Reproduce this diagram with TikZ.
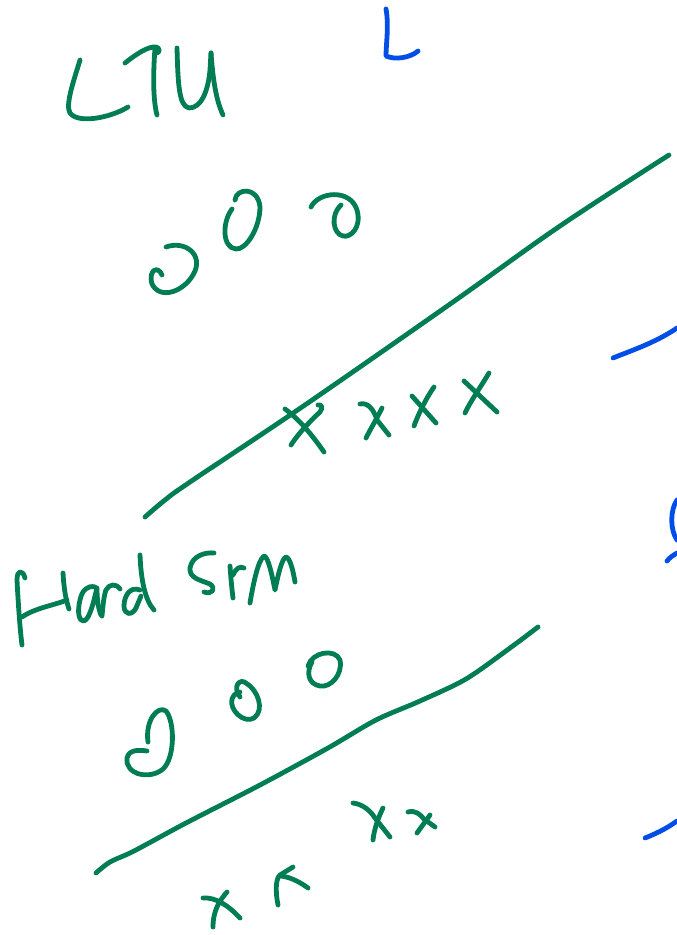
\documentclass[tikz,border=0pt]{standalone}
\definecolor{penGreen}{RGB}{0,125,82}
\definecolor{penBlue}{RGB}{0,78,230}
\begin{document}
\begin{tikzpicture}[x=1pt, y=-1pt, line cap=round, line join=round,
  ink/.style={draw=penGreen, line width=4.8pt},
  blueink/.style={draw=penBlue, line width=4.8pt}]
  \useasboundingbox (0,0) rectangle (677,935);
  \draw[ink] (80,60) .. controls (74,80) and (65,105) .. (70,113) .. controls (78,124) and (110,118) .. (128,107);
  \draw[ink] (125,63) .. controls (135,55) and (148,46) .. (156,47) .. controls (160,48) and (160,52) .. (157,53);
  \draw[ink] (155,48) .. controls (153,75) and (153,100) .. (157,115);
  \draw[ink] (177,48) .. controls (178,85) and (179,106) .. (189,108) .. controls (201,108) and (208,92) .. (210,70) -- (211,53);
  \draw[ink] (211,53) .. controls (213,80) and (216,100) .. (223,115);
  \draw[blueink] (386,9) .. controls (389,25) and (386,45) .. (386,56) .. controls (395,60) and (410,58) .. (418,51);
  \draw[ink] (166,247) .. controls (185,240) and (205,255) .. (193,275) .. controls (183,292) and (160,300) .. (152,284) .. controls (148,270) and (158,265) .. (162,275);
  \draw[ink] (235,200) .. controls (236,188) and (258,186) .. (260,207) .. controls (260,228) and (246,250) .. (236,249) .. controls (222,248) and (222,222) .. (232,209);
  \draw[ink] (311,207) .. controls (318,192) and (350,188) .. (357,210) .. controls (362,228) and (350,238) .. (343,236) .. controls (333,234) and (330,215) .. (341,205);
  \draw[ink] plot[smooth, tension=0.6] coordinates {(669,155) (560,226) (453,302) (302,407) (190,482) (165,500) (145,517)};
  \draw[ink] (285,409) .. controls (300,420) and (312,435) .. (324,452);
  \draw[ink] (318,405) .. controls (322,404) and (323,408) .. (320,412) .. controls (306,425) and (296,437) .. (291,445);
  \draw[ink] (360,404) .. controls (368,402) and (374,410) .. (377,420) -- (389,435);
  \draw[ink] (382,408) .. controls (376,420) and (370,430) .. (366,438);
  \draw[ink] (412,396) -- (436,423);
  \draw[ink] (434,387) .. controls (425,400) and (418,415) .. (414,426);
  \draw[ink] (464,381) -- (497,412);
  \draw[ink] (489,373) .. controls (480,388) and (470,402) .. (465,413);
  \draw[blueink] (613,358) .. controls (630,351) and (655,343) .. (677,328);
  \draw[blueink] (677,500) .. controls (670,510) and (670,530) .. (677,540);
  \draw[blueink] (667,561) .. controls (670,557) and (674,555) .. (677,553);
  \draw[blueink] (645,838) .. controls (655,834) and (666,829) .. (677,821);
  \draw[ink] (25,578) .. controls (23,570) and (17,569) .. (17,580) .. controls (18,600) and (20,630) .. (22,645);
  \draw[ink] (22,617) .. controls (35,608) and (55,605) .. (67,600);
  \draw[ink] (63,573) .. controls (64,590) and (66,600) .. (69,609);
  \draw[ink] (95,587) .. controls (88,585) and (82,590) .. (80,600) .. controls (77,612) and (79,622) .. (84,621) .. controls (90,619) and (94,600) .. (97,588) .. controls (97,598) and (98,608) .. (101,615);
  \draw[ink] (102,616) .. controls (103,605) and (104,595) .. (106,590) .. controls (109,584) and (116,583) .. (120,589);
  \draw[ink] (140,590) .. controls (130,586) and (124,596) .. (124,606) .. controls (124,615) and (132,616) .. (136,608) -- (141,596);
  \draw[ink] (140,555) .. controls (141,580) and (145,600) .. (154,610);
  \draw[ink] (214,553) .. controls (205,552) and (192,556) .. (190,568) .. controls (189,578) and (200,580) .. (210,584) .. controls (216,588) and (213,595) .. (204,592);
  \draw[ink] (230,566) .. controls (231,580) and (232,590) .. (233,598);
  \draw[ink] (233,575) .. controls (236,568) and (240,566) .. (244,568);
  \draw[ink] (250,603) .. controls (253,585) and (258,560) .. (264,556) .. controls (268,556) and (272,575) .. (275,590) .. controls (278,575) and (282,558) .. (286,557) .. controls (290,558) and (293,570) .. (295,582);
  \draw[ink] (148,742) .. controls (145,720) and (158,705) .. (166,711) .. controls (175,722) and (175,758) .. (163,769) .. controls (150,780) and (125,775) .. (127,758) .. controls (129,749) and (140,750) .. (147,751);
  \draw[ink] (240,697) .. controls (232,686) and (240,678) .. (246,683) .. controls (258,690) and (265,710) .. (254,718) .. controls (244,724) and (229,710) .. (232,699) .. controls (234,693) and (238,693) .. (240,692);
  \draw[ink] (308,666) .. controls (312,652) and (335,648) .. (340,660) .. controls (343,675) and (330,688) .. (320,686) .. controls (308,684) and (306,672) .. (312,662);
  \draw[ink] plot[smooth, tension=0.5] coordinates {(538,627) (510,648) (466,679) (420,701) (376,720) (328,748) (260,785) (186,823) (134,851) (110,862) (96,873)};
  \draw[ink] (353,803) .. controls (362,804) and (370,810) .. (375,818) -- (390,837);
  \draw[ink] (383,808) .. controls (378,818) and (374,830) .. (373,840);
  \draw[ink] (408,812) .. controls (415,810) and (420,814) .. (424,819) -- (435,827);
  \draw[ink] (430,815) -- (417,833);
  \draw[ink] (203,898) .. controls (215,897) and (228,905) .. (240,918);
  \draw[ink] (227,892) .. controls (220,900) and (213,910) .. (213,927);
  \draw[ink] (278,905) .. controls (275,890) and (276,878) .. (280,875) -- (293,867);
  \draw[ink] (281,876) .. controls (290,877) and (300,882) .. (308,888);
\end{tikzpicture}
\end{document}
